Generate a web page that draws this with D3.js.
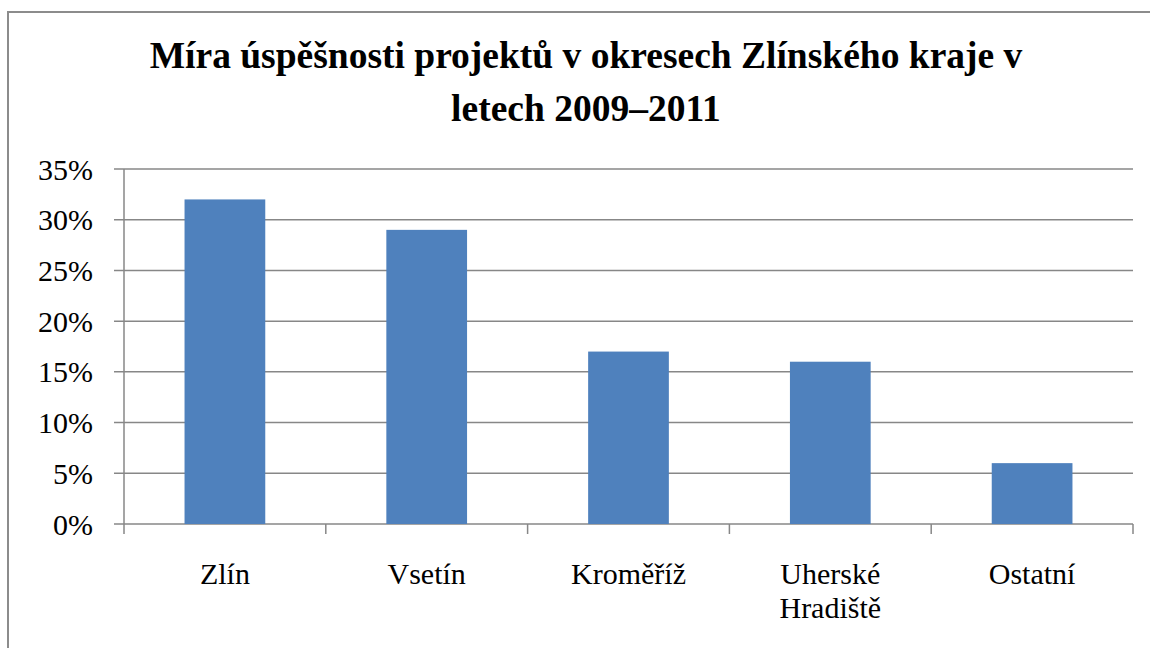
<!DOCTYPE html>
<html>
<head>
<meta charset="utf-8">
<script src="https://cdn.jsdelivr.net/npm/d3@7"></script>
<style>
  body { margin: 0; background: #fff; }
</style>
</head>
<body>
<svg></svg>
<script>
const categories = ['Zlín', 'Vsetín', 'Kroměříž', 'Uherské Hradiště', 'Ostatní'];
const labelLines = [['Zlín'], ['Vsetín'], ['Kroměříž'], ['Uherské', 'Hradiště'], ['Ostatní']];
const values = [0.32, 0.29, 0.17, 0.16, 0.06];
const yTicks = [0, 0.05, 0.10, 0.15, 0.20, 0.25, 0.30, 0.35];
const titleLines = ['Míra úspěšnosti projektů v okresech Zlínského kraje v', 'letech 2009–2011'];

const FONT = '"Liberation Serif"';
const width = 1150, height = 648;
const margin = { left: 124, right: 17, top: 169, bottom: 124 };

const svg = d3.select('svg')
  .attr('width', width)
  .attr('height', height);

// chart border (only left and top visible in the crop)
svg.append('rect')
  .attr('x', 8).attr('y', 12)
  .attr('width', 1160).attr('height', 660)
  .attr('fill', 'none')
  .attr('stroke', '#8c8c8c')
  .attr('stroke-width', 2);

const x = d3.scaleBand()
  .domain(categories)
  .range([margin.left, width - margin.right])
  .paddingInner(0.6)
  .paddingOuter(0.3);

const y = d3.scaleLinear()
  .domain([0, 0.35])
  .range([height - margin.bottom, margin.top]);

// gridlines
svg.append('g')
  .selectAll('line')
  .data(yTicks)
  .enter().append('line')
  .attr('x1', margin.left - 10)
  .attr('x2', width - margin.right)
  .attr('y1', d => y(d))
  .attr('y2', d => y(d))
  .attr('stroke', '#878787')
  .attr('stroke-width', 1.5);

// y axis line
svg.append('line')
  .attr('x1', margin.left).attr('x2', margin.left)
  .attr('y1', y(0.35)).attr('y2', y(0) + 10)
  .attr('stroke', '#878787')
  .attr('stroke-width', 1.5);

// x category ticks
const boundaries = d3.range(categories.length + 1).map(i => margin.left + i * (width - margin.right - margin.left) / categories.length);
svg.append('g')
  .selectAll('line')
  .data(boundaries.slice(1))
  .enter().append('line')
  .attr('x1', d => d).attr('x2', d => d)
  .attr('y1', y(0)).attr('y2', y(0) + 10)
  .attr('stroke', '#878787')
  .attr('stroke-width', 1.5);

// bars
svg.append('g')
  .selectAll('rect')
  .data(values)
  .enter().append('rect')
  .attr('x', (d, i) => x(categories[i]))
  .attr('y', d => y(d))
  .attr('width', x.bandwidth())
  .attr('height', d => y(0) - y(d))
  .attr('fill', '#4f81bd');

// y labels
svg.append('g')
  .selectAll('text')
  .data(yTicks)
  .enter().append('text')
  .attr('x', 93)
  .attr('y', d => y(d))
  .attr('dy', '0.35em')
  .attr('text-anchor', 'end')
  .style('font-family', FONT)
  .style('font-size', '30px')
  .attr('fill', '#000')
  .text(d => d3.format('.0%')(d));

// x labels
const xl = svg.append('g')
  .selectAll('text')
  .data(labelLines)
  .enter().append('text')
  .attr('text-anchor', 'middle')
  .style('font-family', FONT)
  .style('font-size', '30px')
  .attr('fill', '#000');
xl.each(function(lines, i) {
  const cx = x(categories[i]) + x.bandwidth() / 2;
  d3.select(this).selectAll('tspan')
    .data(lines)
    .enter().append('tspan')
    .attr('x', cx)
    .attr('y', (d, j) => 584 + j * 34)
    .style('font-family', FONT)
    .text(d => d);
});

// title
svg.append('g')
  .selectAll('text')
  .data(titleLines)
  .enter().append('text')
  .attr('x', 586)
  .attr('y', (d, i) => 68 + i * 53)
  .attr('text-anchor', 'middle')
  .style('font-family', FONT)
  .style('font-size', '37.5px')
  .style('font-weight', 'bold')
  .attr('fill', '#000')
  .text(d => d);
</script>
</body>
</html>
